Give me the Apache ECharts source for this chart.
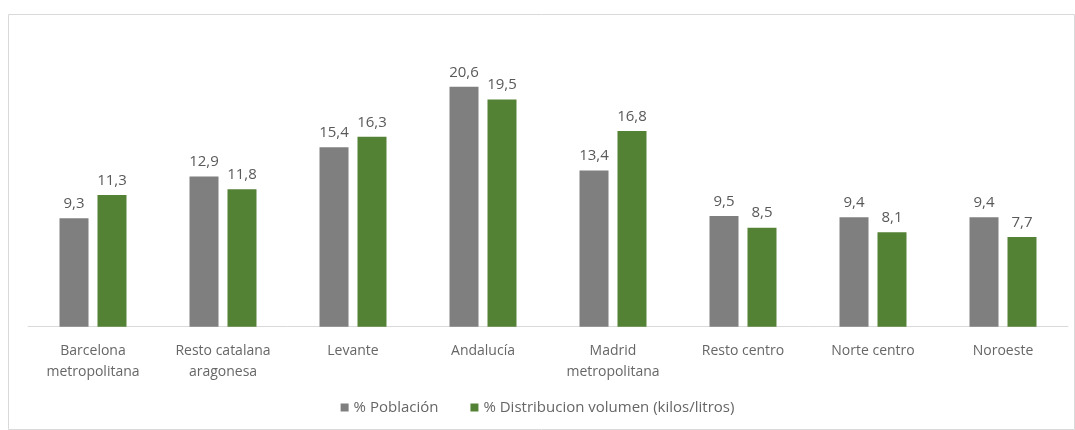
<!DOCTYPE html>
<html><head><meta charset="utf-8">
<script src="https://cdn.jsdelivr.net/npm/echarts@6/dist/echarts.min.js"></script>
<style>html,body{margin:0;padding:0;background:#fff}#c{width:1075px;height:430px}</style>
</head><body><div id="c"></div>
<script>
var categories = ['Barcelona\nmetropolitana','Resto catalana\naragonesa','Levante','Andalucía','Madrid\nmetropolitana','Resto centro','Norte centro','Noroeste'];
var poblacion = [9.3, 12.9, 15.4, 20.6, 13.4, 9.5, 9.4, 9.4];
var distribucion = [11.3, 11.8, 16.3, 19.5, 16.8, 8.5, 8.1, 7.7];
var seriesNames = ['% Población', '% Distribucion volumen (kilos/litros)'];

var chart = echarts.init(document.getElementById('c'));
var fmt = function(p){ return String(p.value.toFixed(1)).replace('.', ','); };
var font = 'Open Sans, Liberation Sans, sans-serif';
chart.setOption({
  animation: false,
  textStyle: {fontFamily: font},
  graphic: [{type:'rect', left: 6, top: 12, shape:{width:1066, height:415}, style:{fill:'none', stroke:'#d9d9d9', lineWidth:1}, silent:true}],
  grid: {left: 28, right: 7, top: 35.5, height: 291.2},
  legend: {bottom: 10, left: 'center', itemWidth: 8, itemHeight: 8, itemGap: 32, icon: 'rect',
    textStyle: {color: '#666666', fontSize: 15, fontFamily: font}},
  xAxis: {type: 'category', data: categories,
    axisLine: {lineStyle: {color: '#d9d9d9'}}, axisTick: {show: false},
    axisLabel: {color: '#666666', fontSize: 14, margin: 14, lineHeight: 21, interval: 0, fontFamily: font}},
  yAxis: {type: 'value', min: 0, max: 25, show: false, splitLine: {show: false}},
  series: [
    {name: seriesNames[0], type: 'bar', data: poblacion, barWidth: 29, barGap: '31%',
     itemStyle: {color: '#7f7f7f'},
     label: {show: true, position: 'top', distance: 7, color: '#595959', fontSize: 15, formatter: fmt, fontFamily: font}},
    {name: seriesNames[1], type: 'bar', data: distribucion, barWidth: 29,
     itemStyle: {color: '#548235'},
     label: {show: true, position: 'top', distance: 7, color: '#595959', fontSize: 15, formatter: fmt, fontFamily: font}}
  ]
});
</script></body></html>
